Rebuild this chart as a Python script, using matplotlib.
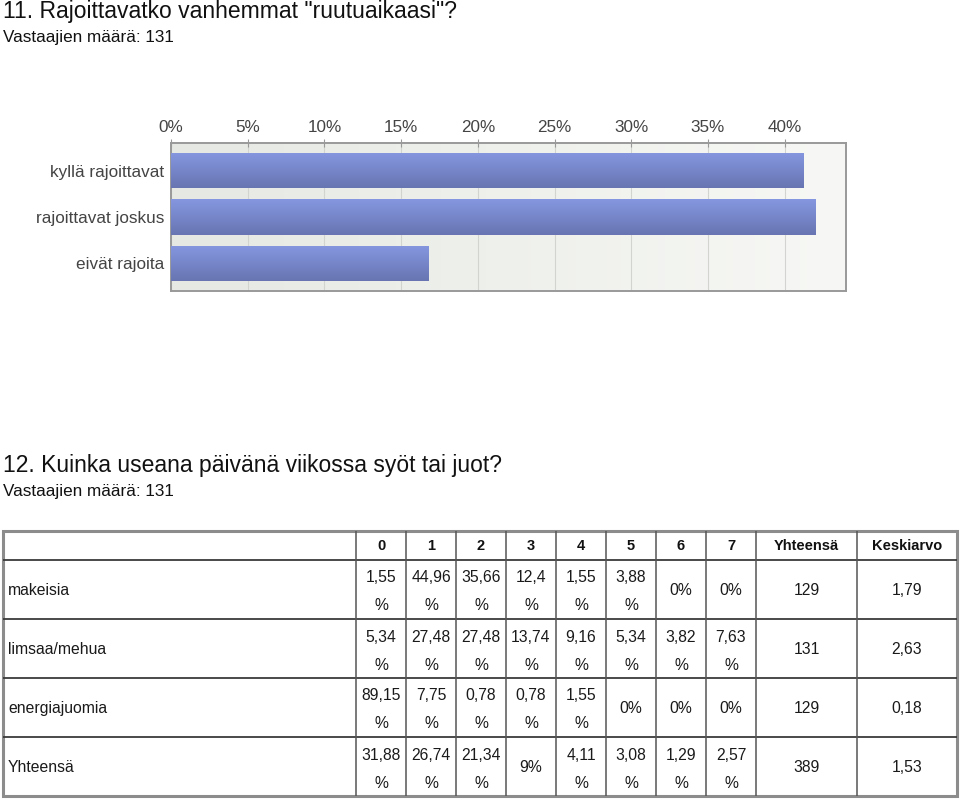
import numpy as np
import matplotlib
matplotlib.use("Agg")
import matplotlib.pyplot as plt
from matplotlib.colors import to_rgb

plt.rcParams["font.family"] = ["Liberation Sans", "DejaVu Sans"]

# Question 11 data ------------------------------------------------------------
q11_title = '11. Rajoittavatko vanhemmat "ruutuaikaasi"?'
q11_n = 131
q11_labels = ["kyllä rajoittavat", "rajoittavat joskus", "eivät rajoita"]
q11_counts = [54, 55, 22]
q11_ticks = [0, 5, 10, 15, 20, 25, 30, 35, 40]

# Question 12 data ------------------------------------------------------------
q12_title = "12. Kuinka useana päivänä viikossa syöt tai juot?"
q12_n = 131
q12_columns = ["0", "1", "2", "3", "4", "5", "6", "7"]
q12_rows = ["makeisia", "limsaa/mehua", "energiajuomia", "Yhteensä"]
q12_makeisia = [1.55, 44.96, 35.66, 12.4, 1.55, 3.88, 0, 0]
q12_limsaa = [5.34, 27.48, 27.48, 13.74, 9.16, 5.34, 3.82, 7.63]
q12_energia = [89.15, 7.75, 0.78, 0.78, 1.55, 0, 0, 0]
q12_yhteensa = [31.88, 26.74, 21.34, 9, 4.11, 3.08, 1.29, 2.57]
q12_totals = [129, 131, 129, 389]
q12_means = [1.79, 2.63, 0.18, 1.53]

W, H = 960, 801
fig = plt.figure(figsize=(W / 100, H / 100), dpi=100)


def fig_y(py):
    return 1 - py / H


def fi(v):
    # finnish decimal format
    return f"{v:g}".replace(".", ",")


# Titles ----------------------------------------------------------------------
fig.text(3 / W, fig_y(18), q11_title, fontsize=16.5, color="#111111", va="baseline")
fig.text(3 / W, fig_y(42), f"Vastaajien määrä: {q11_n}", fontsize=12.3, color="#111111", va="baseline")
fig.text(3 / W, fig_y(472), q12_title, fontsize=16.5, color="#111111", va="baseline")
fig.text(3 / W, fig_y(496), f"Vastaajien määrä: {q12_n}", fontsize=12.3, color="#111111", va="baseline")

# Bar chart -------------------------------------------------------------------
left, right, top, bottom = 171, 846, 143, 291
ax = fig.add_axes([left / W, fig_y(bottom), (right - left) / W, (bottom - top) / H])

pct = np.array(q11_counts) / sum(q11_counts) * 100
ypos = np.arange(len(q11_labels))
bar_h = 0.76

# background gradient
c0, c1 = np.array(to_rgb("#e6e9e3")), np.array(to_rgb("#f7f8f5"))
t = np.linspace(0, 1, 256)[None, :, None]
bg = c0 + (c1 - c0) * t
ax.imshow(bg, extent=[0, 1, 0, 1], transform=ax.transAxes, aspect="auto", zorder=0)

bars = ax.barh(ypos, pct, height=bar_h, color="#7685c8", zorder=2, linewidth=0)
b0, b1 = np.array(to_rgb("#8597e0")), np.array(to_rgb("#6875b2"))
tv = np.linspace(0, 1, 64)[:, None, None]
grad = b0 + (b1 - b0) * tv
for bar in bars:
    x0, y0, w, h = bar.get_x(), bar.get_y(), bar.get_width(), bar.get_height()
    im = ax.imshow(grad, extent=[x0, x0 + w, y0 + h, y0], origin="upper",
                   aspect="auto", zorder=3)
    im.set_clip_path(bar)

ax.set_xlim(0, 44)
ax.set_ylim(len(q11_labels) - 0.4, -0.6)
ax.set_xticks(q11_ticks)
ax.set_xticklabels([f"{v}%" for v in q11_ticks])
ax.xaxis.tick_top()
ax.tick_params(axis="x", direction="inout", length=6, color="#999999", labelsize=12.3,
               labelcolor="#444444", pad=3)
ax.set_yticks(ypos)
ax.set_yticklabels(q11_labels)
ax.tick_params(axis="y", length=0, labelsize=12.3, labelcolor="#444444", pad=5)
ax.set_axisbelow(True)
ax.grid(axis="x", color="#d2d4d0", linewidth=0.8)
for s in ax.spines.values():
    s.set_color("#999999")
    s.set_linewidth(1.4)

# Table -----------------------------------------------------------------------
tx = fig.add_axes([0, 0, 1, 1])
tx.set_xlim(0, W)
tx.set_ylim(H, 0)
tx.axis("off")

col_widths = [353] + [50] * len(q12_columns) + [101, 100]
col_edges = np.concatenate([[3], 3 + np.cumsum(col_widths)])
header_h, row_h = 29, 59
row_edges = 531 + np.concatenate([[0], header_h + row_h * np.arange(len(q12_rows) + 1)])

inner = "#3a3a3a"
tx.hlines(row_edges[1:-1], col_edges[0], col_edges[-1], color=inner, linewidth=1.3)
tx.vlines(col_edges[1:-1], row_edges[0], row_edges[-1], color="#555555", linewidth=1.1)
tx.add_patch(plt.Rectangle((col_edges[0], row_edges[0]), col_edges[-1] - col_edges[0],
                           row_edges[-1] - row_edges[0], fill=False,
                           edgecolor="#8c8c8c", linewidth=2.2))

headers = q12_columns + ["Yhteensä", "Keskiarvo"]
hy = (row_edges[0] + row_edges[1]) / 2
for i, hd in enumerate(headers):
    cx = (col_edges[i + 1] + col_edges[i + 2]) / 2
    tx.text(cx, hy, hd, ha="center", va="center", fontsize=10.5, fontweight="bold",
            color="#111111")

table_vals = [q12_makeisia, q12_limsaa, q12_energia, q12_yhteensa]
fs = 11.3
for r, name in enumerate(q12_rows):
    rt = row_edges[r + 1]
    cy = rt + row_h / 2
    tx.text(col_edges[0] + 5, cy + 1, name, ha="left", va="center", fontsize=fs, color="#1a1a1a")
    for c, v in enumerate(table_vals[r]):
        cx = (col_edges[c + 1] + col_edges[c + 2]) / 2
        if float(v).is_integer():
            tx.text(cx, cy + 1, f"{int(v)}%", ha="center", va="center", fontsize=fs, color="#1a1a1a")
        else:
            tx.text(cx, rt + 18, fi(v), ha="center", va="center", fontsize=fs, color="#1a1a1a")
            tx.text(cx, rt + 46, "%", ha="center", va="center", fontsize=fs, color="#1a1a1a")
    ncol = len(q12_columns)
    tx.text((col_edges[ncol + 1] + col_edges[ncol + 2]) / 2, cy + 1, str(q12_totals[r]),
            ha="center", va="center", fontsize=fs, color="#1a1a1a")
    tx.text((col_edges[ncol + 2] + col_edges[ncol + 3]) / 2, cy + 1, fi(q12_means[r]),
            ha="center", va="center", fontsize=fs, color="#1a1a1a")

fig.savefig("out.png", dpi=100)
